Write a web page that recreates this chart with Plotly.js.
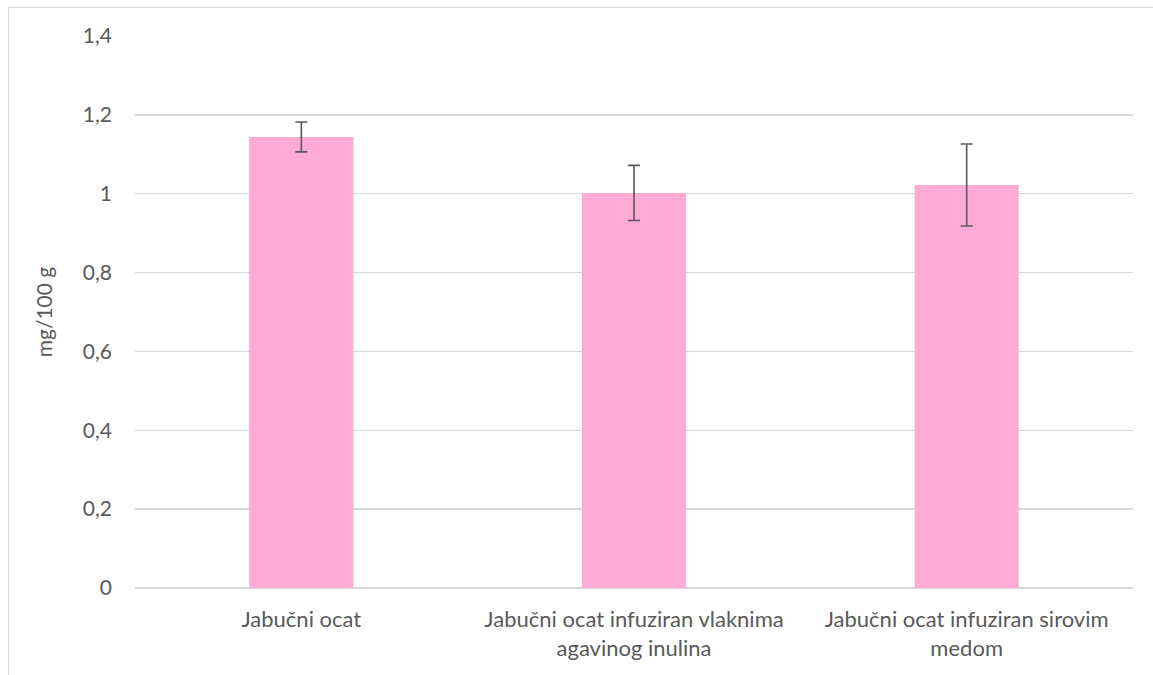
<!DOCTYPE html>
<html>
<head>
<meta charset="utf-8">
<script src="https://cdn.plot.ly/plotly-3.0.1.min.js"></script>
<style>
  html, body { margin: 0; padding: 0; background: #fff; }
  #wrap { position: relative; width: 1153px; height: 675px; overflow: hidden; }
  #frame { position: absolute; left: 8px; top: 7px; width: 1160px; height: 700px; border-left: 1px solid #d9d9d9; border-top: 1px solid #d9d9d9; box-sizing: border-box; pointer-events: none; }
  #chart { position: absolute; left: 0; top: 0; width: 1153px; height: 675px; }
</style>
</head>
<body>
<div id="wrap">
  <div id="chart"></div>
  <div id="frame"></div>
</div>
<script>
const categories = [
  "Jabučni ocat",
  "Jabučni ocat infuziran vlaknima<br>agavinog inulina",
  "Jabučni ocat infuziran sirovim<br>medom"
];
const values = [1.144, 1.002, 1.022];
const errors = [0.038, 0.070, 0.104];
const yTitle = "mg/100 g";

const font = "Lato, 'Open Sans', sans-serif";

Plotly.newPlot('chart', [{
  type: 'bar',
  x: categories,
  y: values,
  marker: { color: '#FFABD6' },
  error_y: { type: 'data', array: errors, visible: true, color: '#595959', thickness: 1.6, width: 6 },
  hoverinfo: 'none'
}], {
  width: 1153, height: 675,
  margin: { l: 135, r: 20, t: 36, b: 87 },
  paper_bgcolor: '#fff', plot_bgcolor: '#fff',
  separators: ',.',
  bargap: 0.687,
  showlegend: false,
  font: { family: font, size: 22, color: '#595959' },
  xaxis: { showline: false, ticks: '', ticklabelstandoff: 16, tickfont: { size: 22, color: '#595959' }, fixedrange: true },
  yaxis: {
    range: [0, 1.4], dtick: 0.2, tick0: 0,
    gridcolor: '#d9d9d9', gridwidth: 1.3,
    zeroline: true, zerolinecolor: '#d9d9d9', zerolinewidth: 1.3,
    showline: false, ticks: '', ticklabelstandoff: 22,
    tickfont: { size: 21, color: '#595959' },
    title: { text: yTitle, font: { size: 21, color: '#595959' }, standoff: 24 }
  }
}, { displayModeBar: false, staticPlot: true });
</script>
</body>
</html>
